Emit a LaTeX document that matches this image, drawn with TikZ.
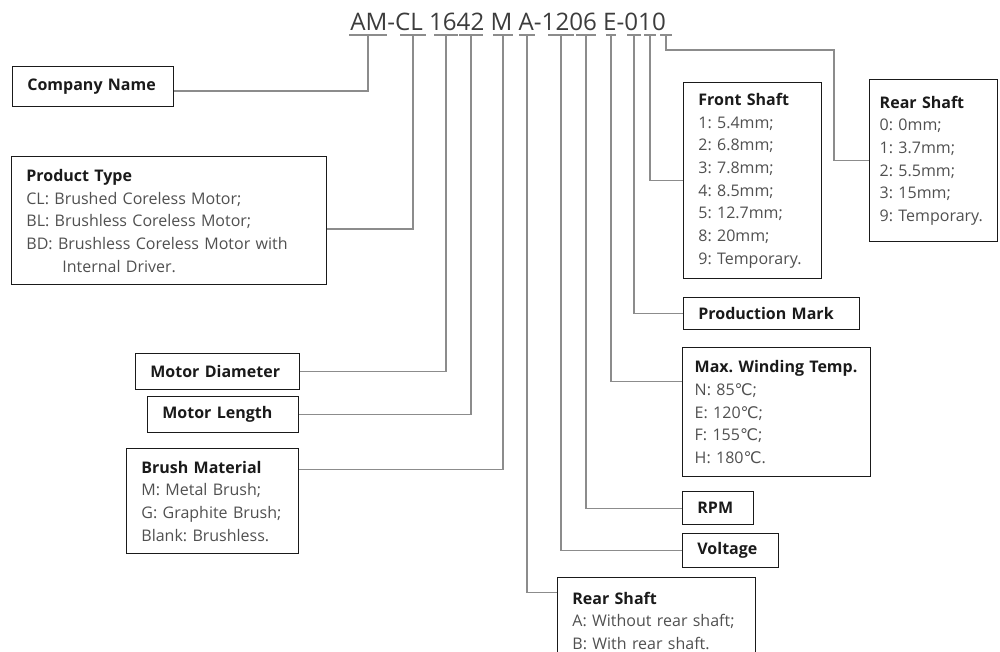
\documentclass[tikz,border=0pt]{standalone}
\usepackage{fontspec}
\setmainfont{Open Sans}
\newfontfamily\degfont{DejaVu Sans}
\frenchspacing
\definecolor{Ink}{HTML}{1A1A1A}
\definecolor{Body}{HTML}{505050}
\definecolor{Lead}{HTML}{8C8C8C}
\newcommand{\degC}{{\degfont ℃}}
\tikzset{
  codebox/.style={draw=Ink,line width=1.1pt,anchor=north west,inner xsep=11pt,inner ysep=0pt,
    align=left,text=Body,font=\fontsize{12}{17}\selectfont},
  lead/.style={draw=Lead,line width=0.9pt},
}

\begin{document}
\begin{tikzpicture}[x=0.75pt,y=-0.75pt]
        \useasboundingbox (0,0) rectangle (1000,652);
        \clip (0,0) rectangle (1000,652);
        % model code and its tick marks
        \node[anchor=base west,inner sep=0pt,text=Ink!85,font=\fontsize{18.1}{20}\selectfont] (code) at (350,31) {AM-CL 1642 M A-1206 E-010};
        \foreach \nm/\x/\w in {tCo/368/19,tType/413/13,tDia/446/12,tLen/471/12,tBrush/503/10,tRear/527/8,
                               tVolt/561/13,tRpm/586/10,tTemp/611/5,tMark/634/7,tFront/650/6,tRearS/666/6}{
          \coordinate (\nm) at (\x,35);
          \draw[lead] ({\x-\w},35) -- ({\x+\w},35);
        }
        % left column
        \node[codebox,text width=98.75pt,minimum height=30pt] (company) at (12,66) {{\color{Ink}\bfseries Company Name}};
        \node[codebox,text width=214.25pt,minimum height=96pt] (ptype) at (11,156) {
          {\color{Ink}\bfseries Product Type}\\
          CL: Brushed Coreless Motor;\\
          BL: Brushless Coreless Motor;\\
          \makebox[\hsize][s]{BD: Brushless Coreless Motor with}\\
          \hspace*{27pt}Internal Driver.
        };
        \node[codebox,text width=101pt,minimum height=27pt] (diam) at (135,353) {{\color{Ink}\bfseries Motor Diameter}};
        \node[codebox,text width=91.25pt,minimum height=27pt] (mlen) at (147,396) {{\color{Ink}\bfseries Motor Length}};
        \node[codebox,text width=107pt,minimum height=78.75pt] (brush) at (126,448) {
          {\color{Ink}\bfseries Brush Material}\\
          M: Metal Brush;\\
          G: Graphite Brush;\\
          Blank: Brushless.
        };
        % right column
        \node[codebox,text width=81.5pt,minimum height=147pt] (fshaft) at (683,82) {
          {\color{Ink}\bfseries Front Shaft}\\
          1: 5.4mm;\\
          2: 6.8mm;\\
          3: 7.8mm;\\
          4: 8.5mm;\\
          5: 12.7mm;\\
          8: 20mm;\\
          9: Temporary.
        };
        \node[codebox,inner xsep=7.5pt,text width=81pt,minimum height=121.5pt] (rshaftB) at (869,79) {
          {\color{Ink}\bfseries Rear Shaft}\\
          0: 0mm;\\
          1: 3.7mm;\\
          2: 5.5mm;\\
          3: 15mm;\\
          9: Temporary.
        };
        \node[codebox,text width=110pt,minimum height=24pt] (mark) at (683,297) {{\color{Ink}\bfseries Production Mark}};
        \node[codebox,inner xsep=9pt,text width=123pt,minimum height=96.75pt] (temp) at (682,347) {
          {\color{Ink}\bfseries Max. Winding Temp.}\\
          N: 85\degC;\\
          E: 120\degC;\\
          F: 155\degC;\\
          H: 180\degC.
        };
        \node[codebox,text width=31.25pt,minimum height=24.75pt] (rpm) at (682,491) {{\color{Ink}\bfseries RPM}};
        \node[codebox,text width=50pt,minimum height=25.5pt] (volt) at (682,533) {{\color{Ink}\bfseries Voltage}};
        \node[codebox,text width=126.5pt,minimum height=64.5pt] (rshaftA) at (557,577) {
          {\color{Ink}\bfseries Rear Shaft}\\
          A: Without rear shaft;\\
          B: With rear shaft.
        };
        % leader lines
        \draw[lead] (company.-3) -| (tCo);
        \draw[lead] (ptype.-3) -| (tType);
        \draw[lead] (diam.east) -| (tDia);
        \draw[lead] (mlen.east) -| (tLen);
        \draw[lead] (brush.20) -| (tBrush);
        \draw[lead] (rshaftA.164) -| (tRear);
        \draw[lead] (volt.west) -| (tVolt);
        \draw[lead] (rpm.west) -| (tRpm);
        \draw[lead] (temp.162) -| (tTemp);
        \draw[lead] (mark.west) -| (tMark);
        \draw[lead] (fshaft.west) -| (tFront);
        \coordinate (bend) at (834,50);
        \draw[lead] (tRearS) |- (bend) |- (rshaftB.west);
\end{tikzpicture}
\end{document}
